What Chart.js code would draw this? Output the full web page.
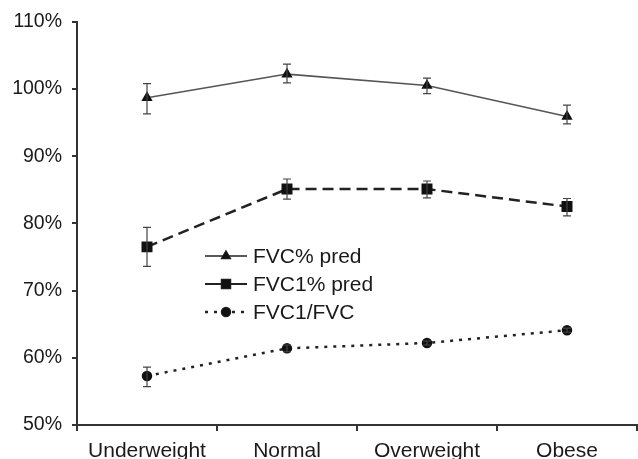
<!DOCTYPE html>
<html>
<head>
<meta charset="utf-8">
<script src="https://cdn.jsdelivr.net/npm/chart.js@4"></script>
<style>
  html, body { margin: 0; padding: 0; background: #fff; }
  #wrap { width: 638px; height: 459px; }
</style>
</head>
<body>
<div id="wrap"><canvas id="myChart" width="638" height="459"></canvas></div>
<script>
var categories = ['Underweight', 'Normal', 'Overweight', 'Obese'];

var fvcPred = [98.7, 102.2, 100.5, 95.9];
var fvcPredLow = [96.3, 100.9, 99.3, 94.8];
var fvcPredHigh = [100.8, 103.7, 101.6, 97.6];

var fvc1Pred = [76.5, 85.1, 85.1, 82.5];
var fvc1PredLow = [73.6, 83.6, 83.8, 81.1];
var fvc1PredHigh = [79.4, 86.6, 86.3, 83.7];

var fvc1Ratio = [57.3, 61.4, 62.2, 64.1];
var fvc1RatioLow = [55.7, 60.9, 61.9, 63.8];
var fvc1RatioHigh = [58.6, 61.9, 62.5, 64.4];

var yTicks = [50, 60, 70, 80, 90, 100, 110];

var FONT = '"Liberation Sans", Arial, sans-serif';

// error bars drawn from the low/high arrays through the y scale
var errorBars = {
    id: 'errorBars',
    afterDatasetsDraw: function (chart) {
        var ctx = chart.ctx;
        var y = chart.scales.y;
        ctx.save();
        ctx.strokeStyle = '#444';
        ctx.lineWidth = 1.2;
        chart.data.datasets.forEach(function (ds, i) {
            var meta = chart.getDatasetMeta(i);
            meta.data.forEach(function (pt, j) {
                var top = y.getPixelForValue(ds.errHigh[j]);
                var bot = y.getPixelForValue(ds.errLow[j]);
                ctx.beginPath();
                ctx.moveTo(pt.x, top); ctx.lineTo(pt.x, bot);
                ctx.moveTo(pt.x - 4, top); ctx.lineTo(pt.x + 4, top);
                ctx.moveTo(pt.x - 4, bot); ctx.lineTo(pt.x + 4, bot);
                ctx.stroke();
            });
        });
        ctx.restore();
    }
};

// legend sits inside the plot, left-middle
var insideLegend = {
    id: 'insideLegend',
    afterDraw: function (chart) {
        var ctx = chart.ctx;
        var x0 = 205, x1 = 247, tx = 253;
        var rows = [256, 284, 312];
        ctx.save();
        chart.data.datasets.forEach(function (ds, i) {
            var yy = rows[i];
            ctx.strokeStyle = '#222';
            ctx.lineWidth = ds.legendWidth;
            ctx.setLineDash(ds.legendDash);
            ctx.beginPath();
            ctx.moveTo(x0, yy); ctx.lineTo(x1, yy);
            ctx.stroke();
            ctx.setLineDash([]);
            Chart.helpers.drawPoint(ctx, {
                pointStyle: ds.pointStyle, radius: ds.pointRadius, rotation: 0, borderWidth: 1
            }, (x0 + x1) / 2, yy);
            ctx.fillStyle = '#111';
            ctx.fill();
            ctx.fillStyle = '#1a1a1a';
            ctx.font = '21px ' + FONT;
            ctx.textBaseline = 'middle';
            ctx.fillText(ds.label, tx, yy + 1);
        });
        ctx.restore();
    }
};

function createChart() {
    var ctx = document.getElementById('myChart').getContext('2d');
    new Chart(ctx, {
        type: 'line',
        data: {
            labels: categories,
            datasets: [
                {
                    label: 'FVC% pred',
                    data: fvcPred, errLow: fvcPredLow, errHigh: fvcPredHigh,
                    borderColor: '#555', borderWidth: 1.5,
                    pointStyle: 'triangle', pointRadius: 5,
                    pointBackgroundColor: '#111', pointBorderColor: '#111',
                    legendWidth: 1.5, legendDash: []
                },
                {
                    label: 'FVC1% pred',
                    data: fvc1Pred, errLow: fvc1PredLow, errHigh: fvc1PredHigh,
                    borderColor: '#222', borderWidth: 2.5, borderDash: [11, 6],
                    pointStyle: 'rect', pointRadius: 6,
                    pointBackgroundColor: '#111', pointBorderColor: '#111',
                    legendWidth: 2, legendDash: []
                },
                {
                    label: 'FVC1/FVC',
                    data: fvc1Ratio, errLow: fvc1RatioLow, errHigh: fvc1RatioHigh,
                    borderColor: '#222', borderWidth: 2.5, borderDash: [3, 6],
                    pointStyle: 'circle', pointRadius: 4,
                    pointBackgroundColor: '#111', pointBorderColor: '#111',
                    legendWidth: 2.5, legendDash: [3, 6]
                }
            ]
        },
        options: {
            responsive: false,
            animation: false,
            layout: { autoPadding: false, padding: { top: 20, right: 1, left: 0, bottom: 0 } },
            plugins: { legend: { display: false }, tooltip: { enabled: false } },
            scales: {
                x: {
                    offset: true,
                    grid: { offset: true, drawOnChartArea: false, drawTicks: true, tickLength: 6, color: '#333', lineWidth: 2 },
                    border: { color: '#333', width: 2 },
                    ticks: { color: '#1a1a1a', font: { family: FONT, size: 21 }, padding: 8, maxRotation: 0 },
                    afterFit: function (s) { s.height = 34; }
                },
                y: {
                    min: 50, max: 110,
                    afterBuildTicks: function (s) { s.ticks = yTicks.map(function (v) { return { value: v }; }); },
                    grid: { drawOnChartArea: false, drawTicks: true, tickLength: 5, color: '#333', lineWidth: 2 },
                    border: { color: '#333', width: 2 },
                    ticks: {
                        color: '#1a1a1a', font: { family: FONT, size: 19.5 }, padding: 10,
                        callback: function (v) { return v + '%'; }
                    },
                    afterFit: function (s) { s.width = 77; }
                }
            }
        },
        plugins: [errorBars, insideLegend]
    });
}

createChart();
</script>
</body>
</html>
